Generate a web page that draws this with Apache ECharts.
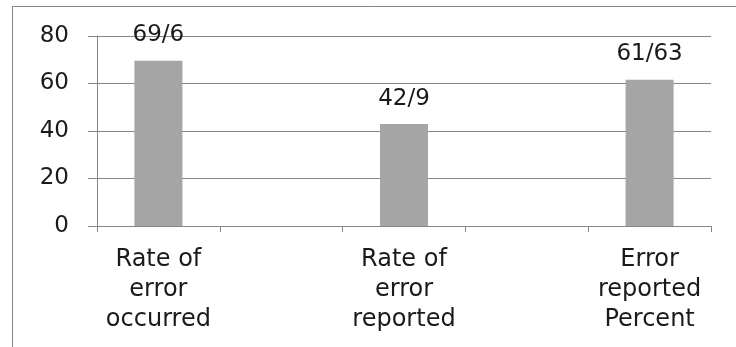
<!DOCTYPE html>
<html>
<head>
<meta charset="utf-8">
<script src="https://cdn.jsdelivr.net/npm/echarts@6/dist/echarts.min.js"></script>
<style>
  html, body { margin: 0; padding: 0; background: #fff; }
  #chart { width: 736px; height: 347px; }
</style>
</head>
<body>
<div id="chart"></div>
<script>
// five slots on the x axis, the 2nd and 4th are empty like in the original sheet
var categories = ['Rate of\nerror\noccurred', '', 'Rate of\nerror\nreported', '', 'Error\nreported\nPercent'];
var values = [69.6, '-', 42.9, '-', 61.63];
var valueLabels = ['69/6', '', '42/9', '', '61/63'];
var yTicks = [0, 20, 40, 60, 80];

var myChart = echarts.init(document.getElementById('chart'), null, { renderer: 'canvas' });

var gridColor = '#868686';
var font = 'DejaVu Sans';

myChart.setOption({
  animation: false,
  // outer frame of the chart area
  graphic: [{
    type: 'rect',
    shape: { x: 12.5, y: 6.5, width: 800, height: 420 },
    style: { fill: 'none', stroke: gridColor, lineWidth: 1 },
    silent: true
  }],
  grid: {
    left: 97,
    right: 25,
    top: 36,
    bottom: 121
  },
  xAxis: {
    type: 'category',
    data: categories,
    axisLine: { lineStyle: { color: gridColor, width: 1 } },
    axisTick: { show: true, length: 6, lineStyle: { color: gridColor } },
    axisLabel: {
      interval: 0,
      margin: 19,
      color: '#1a1a1a',
      fontFamily: font,
      fontSize: 24,
      lineHeight: 30,
      align: 'center'
    }
  },
  yAxis: {
    type: 'value',
    min: yTicks[0],
    max: yTicks[yTicks.length - 1],
    interval: 20,
    axisLine: { show: true, lineStyle: { color: gridColor, width: 1 } },
    axisTick: { show: true, length: 9, lineStyle: { color: gridColor } },
    splitLine: { show: true, lineStyle: { color: gridColor, width: 1 } },
    axisLabel: {
      margin: 28,
      color: '#1a1a1a',
      fontFamily: font,
      fontSize: 23
    }
  },
  series: [{
    type: 'bar',
    data: values,
    barWidth: 48,
    itemStyle: { color: '#a5a5a5' },
    label: {
      show: true,
      position: 'top',
      distance: 14,
      color: '#1a1a1a',
      fontFamily: font,
      fontSize: 23,
      formatter: function (p) { return valueLabels[p.dataIndex]; }
    }
  }]
});
</script>
</body>
</html>
